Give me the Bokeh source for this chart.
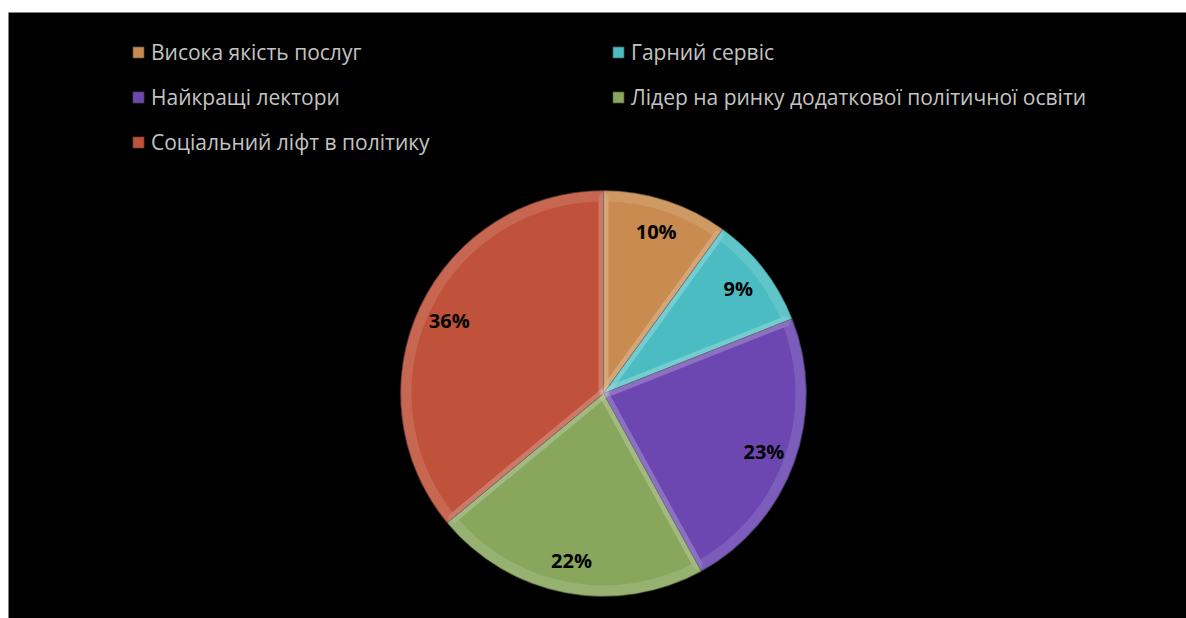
import math
from bokeh.plotting import figure
from bokeh.models import Range1d, Legend, LegendItem, ColumnDataSource
from bokeh.core.properties import value
from bokeh.embed import file_html
from bokeh.resources import INLINE

categories = ["Висока якість послуг", "Гарний сервіс", "Найкращі лектори",
              "Лідер на ринку додаткової політичної освіти", "Соціальний ліфт в політику"]
shares = [10, 9, 23, 22, 36]
labels = ["10%", "9%", "23%", "22%", "36%"]
colors = ["#c98b4f", "#4bbdc2", "#6c47b2", "#88a75d", "#c0523b"]

W, H = 1186, 618
p = figure(width=W, height=H, output_backend="svg", toolbar_location=None,
           x_range=Range1d(8, W), y_range=Range1d(0, H - 12),
           min_border_left=8, min_border_top=12, min_border_right=0, min_border_bottom=0)
p.axis.visible = False
p.grid.visible = False
p.outline_line_color = None
p.background_fill_color = "black"
p.border_fill_color = "white"

cx, cy, R = 603, H - 393, 203
total = sum(shares)
starts, ends, lx, ly = [], [], [], []
cum = 0.0
for s in shares:
    a0 = math.pi / 2 - 2 * math.pi * cum / total
    cum += s
    a1 = math.pi / 2 - 2 * math.pi * cum / total
    starts.append(a0)
    ends.append(a1)
    mid = (a0 + a1) / 2
    lx.append(cx + 0.84 * R * math.cos(mid))
    ly.append(cy + 0.84 * R * math.sin(mid))

src = ColumnDataSource(dict(start=starts, end=ends, color=colors, cat=categories,
                            lx=lx, ly=ly, lab=labels))
renderers = []
for i in range(len(shares)):
    r = p.wedge(x=cx, y=cy, radius=R, start_angle=starts[i], end_angle=ends[i],
                direction="clock", fill_color=colors[i], line_color="#3a3a3a",
                line_width=1, line_alpha=0.6)
    renderers.append(r)

# bevel-like lighter band
for i in range(len(shares)):
    p.wedge(x=cx, y=cy, radius=R - 6, start_angle=starts[i], end_angle=ends[i],
            direction="clock", fill_color=None, line_color="white",
            line_alpha=0.12, line_width=10)

p.text(x="lx", y="ly", text="lab", source=src, text_align="center",
       text_baseline="middle", text_font=value("Open Sans"), text_font_size="20px",
       text_font_style="bold", text_color="black")

common = dict(border_line_alpha=0, background_fill_alpha=0, padding=0, margin=0,
              label_text_font="Open Sans", label_text_font_size="21px",
              label_text_color="#c4c4c4", glyph_width=14, glyph_height=14,
              label_standoff=6, label_height=30, spacing=15)
leg_left = Legend(items=[LegendItem(label=categories[i], renderers=[renderers[i]]) for i in (0, 2, 4)],
                  location=(123, 461), **common)
leg_right = Legend(items=[LegendItem(label=categories[i], renderers=[renderers[i]]) for i in (1, 3)],
                   location=(603, 506), **common)
p.add_layout(leg_left)
p.add_layout(leg_right)

open("out.html", "w").write(file_html(p, INLINE))
